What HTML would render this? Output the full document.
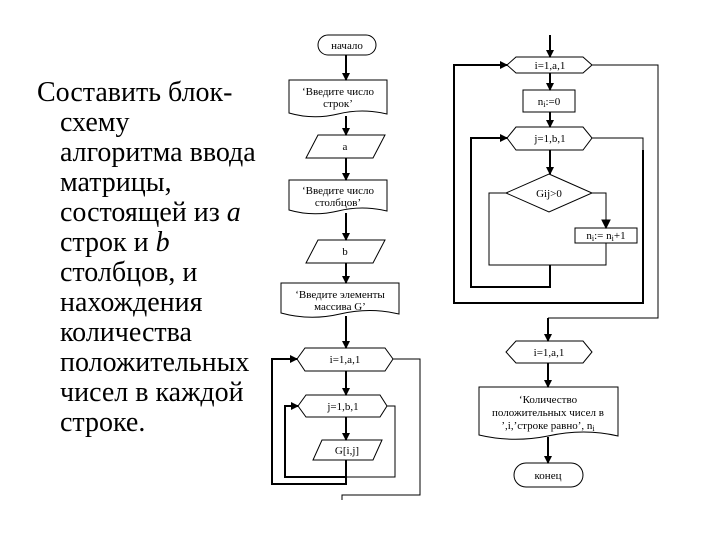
<!DOCTYPE html>
<html><head><meta charset="utf-8"><style>
html,body{margin:0;padding:0;background:#fff;}
svg{display:block}
</style></head><body>
<svg width="720" height="540" viewBox="0 0 720 540" xmlns="http://www.w3.org/2000/svg">
<defs>
<marker id="ar" markerWidth="8" markerHeight="8" refX="7" refY="4" orient="auto" markerUnits="userSpaceOnUse">
<path d="M0,0 L8,4 L0,8 Z" fill="#000"/>
</marker>
</defs>
<g font-family="Liberation Serif, serif" font-size="28" fill="#000">
<text x="37" y="101">Составить блок-</text>
<text x="60" y="131">схему</text>
<text x="60" y="161">алгоритма ввода</text>
<text x="60" y="191">матрицы,</text>
<text x="60" y="221">состоящей из <tspan font-style="italic">a</tspan></text>
<text x="60" y="251">строк и <tspan font-style="italic">b</tspan></text>
<text x="60" y="281">столбцов, и</text>
<text x="60" y="311">нахождения</text>
<text x="60" y="341">количества</text>
<text x="60" y="371">положительных</text>
<text x="60" y="401">чисел в каждой</text>
<text x="60" y="431">строке.</text>
</g>
<g stroke="#000" fill="none" stroke-width="1">
<rect x="318" y="35" width="58" height="20" rx="10" fill="#fff"/>
<path d="M289,80 H387 V114 Q362,108 338,114 Q313,120 289,113 Z" fill="#fff"/>
<polygon points="318,135 385,135 373,158 306,158" fill="#fff"/>
<path d="M289,180 H387 V211 Q362,205 338,211 Q313,217 289,210 Z" fill="#fff"/>
<polygon points="318,240 385,240 373,263 306,263" fill="#fff"/>
<path d="M281,283 H399 V314 Q370,307 340,314 Q310,321 281,313 Z" fill="#fff"/>
<polygon points="305,348 385,348 393,359 385,371 305,371 297,359" fill="#fff"/>
<polygon points="306,395 380,395 387,406 380,417 306,417 298,406" fill="#fff"/>
<polygon points="322,440 382,440 373,460 313,460" fill="#fff"/>
</g>
<g stroke="#000" stroke-width="2" fill="none">
<line x1="346" y1="55" x2="346" y2="80" marker-end="url(#ar)"/>
<line x1="346" y1="116" x2="346" y2="135" marker-end="url(#ar)"/>
<line x1="346" y1="158" x2="346" y2="180" marker-end="url(#ar)"/>
<line x1="346" y1="213" x2="346" y2="240" marker-end="url(#ar)"/>
<line x1="346" y1="263" x2="346" y2="283" marker-end="url(#ar)"/>
<line x1="346" y1="316" x2="346" y2="348" marker-end="url(#ar)"/>
<line x1="346" y1="371" x2="346" y2="395" marker-end="url(#ar)"/>
<line x1="346" y1="417" x2="346" y2="440" marker-end="url(#ar)"/>
<polyline points="346,460 346,477 285,477 285,406 298,406" marker-end="url(#ar)"/>
<polyline points="346,477 346,484 272,484 272,359 297,359" marker-end="url(#ar)"/>
</g>
<g stroke="#000" stroke-width="1" fill="none">
<polyline points="387,406 395,406 395,477 346,477"/>
<polyline points="393,359 420,359 420,495 342,495 342,500"/>
</g>
<g font-family="Liberation Serif, serif" font-size="11" fill="#000" text-anchor="middle">
<text x="347" y="49">начало</text>
<text x="338" y="95">‘Введите число</text>
<text x="338" y="107">строк’</text>
<text x="345" y="150">a</text>
<text x="338" y="194">‘Введите число</text>
<text x="338" y="206">столбцов’</text>
<text x="345" y="255">b</text>
<text x="340" y="298">‘Введите элементы</text>
<text x="340" y="310">массива G’</text>
<text x="345" y="363">i=1,a,1</text>
<text x="343" y="410">j=1,b,1</text>
<text x="347" y="454">G[i,j]</text>
</g>
<g stroke="#000" fill="#fff" stroke-width="1">
<polygon points="516,57 583,57 592,65 583,73 516,73 507,65"/>
<rect x="523" y="90" width="52" height="22"/>
<polygon points="516,127 583,127 592,138 583,150 516,150 507,138"/>
<polygon points="549,174 592,193 549,212 506,193"/>
<rect x="575" y="228" width="62" height="15"/>
<polygon points="516,341 583,341 592,352 583,363 516,363 506,352"/>
<path d="M479,387 H618 V436 Q584,428 548,436 Q513,443 479,435 Z"/>
<rect x="514" y="463" width="69" height="24" rx="12"/>
</g>
<g stroke="#000" stroke-width="2" fill="none">
<line x1="550" y1="35" x2="550" y2="57" marker-end="url(#ar)"/>
<line x1="550" y1="73" x2="550" y2="90" marker-end="url(#ar)"/>
<line x1="550" y1="112" x2="550" y2="127" marker-end="url(#ar)"/>
<line x1="550" y1="150" x2="550" y2="174" marker-end="url(#ar)"/>
<polyline points="550,265 550,287 471,287 471,138 507,138" marker-end="url(#ar)"/>
<polyline points="643,150 643,303 454,303 454,65 507,65" marker-end="url(#ar)"/>
<line x1="548" y1="318" x2="548" y2="341" marker-end="url(#ar)"/>
<line x1="548" y1="363" x2="548" y2="387" marker-end="url(#ar)"/>
<line x1="548" y1="437" x2="548" y2="463" marker-end="url(#ar)"/>
</g>
<g stroke="#000" stroke-width="1" fill="none">
<polyline points="592,138 643,138 643,150"/>
<polyline points="592,65 658,65 658,318 548,318"/>
<polyline points="506,193 489,193 489,265 606,265 606,243"/>
<polyline points="592,193 606,193 606,228"/>
<path d="M602,220 L606,228 L610,220 Z" fill="#000"/>
</g>
<g font-family="Liberation Serif, serif" font-size="11" fill="#000" text-anchor="middle">
<text x="550" y="69">i=1,a,1</text>
<text x="549" y="105">n<tspan font-size="8" dy="2">i</tspan><tspan dy="-2">:=0</tspan></text>
<text x="550" y="142">j=1,b,1</text>
<text x="549" y="197">Gij&gt;0</text>
<text x="606" y="239">n<tspan font-size="8" dy="2">i</tspan><tspan dy="-2">:= n</tspan><tspan font-size="8" dy="2">i</tspan><tspan dy="-2">+1</tspan></text>
<text x="549" y="356">i=1,a,1</text>
<text x="548" y="403">‘Количество</text>
<text x="548" y="416">положительных чисел в</text>
<text x="548" y="429">’,i,’строке равно’, n<tspan font-size="8" dy="2">i</tspan></text>
<text x="548" y="479">конец</text>
</g>
</svg>
</body></html>
